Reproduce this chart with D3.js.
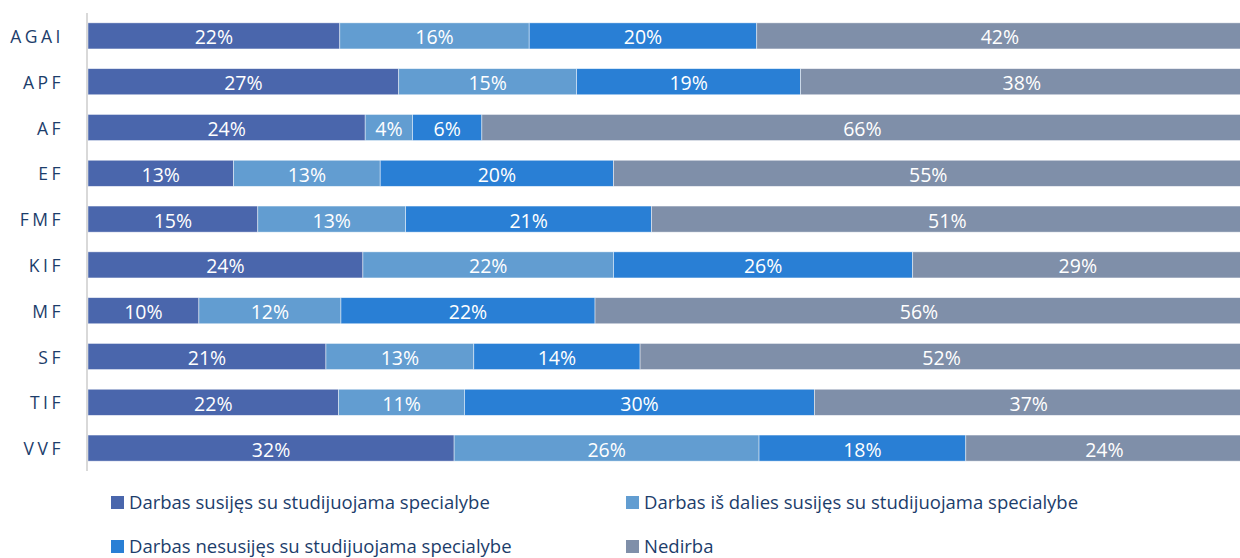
<!DOCTYPE html>
<html>
<head>
<meta charset="utf-8">
<script src="https://cdn.jsdelivr.net/npm/d3@7"></script>
<style>
  body { margin: 0; background: #fff; }
  #grafikas { width: 1240px; height: 558px; overflow: hidden; }
  text { font-family: "Open Sans", sans-serif; }
</style>
</head>
<body>
<div id="grafikas"></div>
<script>
const fakultetai = ["AGAI", "APF", "AF", "EF", "FMF", "KIF", "MF", "SF", "TIF", "VVF"];
const serijos = [
    "Darbas susijęs su studijuojama specialybe",
    "Darbas iš dalies susijęs su studijuojama specialybe",
    "Darbas nesusijęs su studijuojama specialybe",
    "Nedirba"
];
const susijes   = [21.8, 26.9, 24.0, 12.6, 14.7, 23.8,  9.6, 20.6, 21.7, 31.7];
const isDalies  = [16.4, 15.4,  4.1, 12.7, 12.8, 21.7, 12.3, 12.8, 10.9, 26.4];
const nesusijes = [19.7, 19.4,  6.0, 20.2, 21.3, 25.9, 22.0, 14.4, 30.3, 17.9];
const nedirba   = [42.1, 38.3, 65.9, 54.5, 51.2, 28.6, 56.1, 52.2, 37.1, 24.0];
const spalvos = ["#4a66ac", "#629dd1", "#297fd5", "#7f8fa9"];

function piesti() {
    const width = 1240, height = 558;

    const svg = d3.select("#grafikas")
        .append("svg")
        .attr("width", width)
        .attr("height", height);

    const lentele = fakultetai.map((f, i) => ({
        fak: f, s0: susijes[i], s1: isDalies[i], s2: nesusijes[i], s3: nedirba[i]
    }));
    const stack = d3.stack().keys(["s0", "s1", "s2", "s3"])(lentele);

    const x = d3.scaleLinear().domain([0, 100]).range([88, 1243]);
    const y = d3.scaleBand()
        .domain(fakultetai)
        .range([13, 471])
        .paddingInner(0.43)
        .paddingOuter(0.215);

    const sluoksniai = svg.selectAll("g.serija")
        .data(stack)
        .enter().append("g")
        .attr("class", "serija")
        .attr("fill", (d, i) => spalvos[i]);

    sluoksniai.selectAll("rect")
        .data(d => d)
        .enter().append("rect")
        .attr("x", d => x(d[0]))
        .attr("y", d => y(d.data.fak))
        .attr("width", d => x(d[1]) - x(d[0]))
        .attr("height", y.bandwidth())
        .attr("stroke", "#ffffff")
        .attr("stroke-opacity", 0.6)
        .attr("stroke-width", 0.75);

    sluoksniai.selectAll("text")
        .data(d => d)
        .enter().append("text")
        .attr("x", d => (x(d[0]) + x(d[1])) / 2)
        .attr("y", d => y(d.data.fak) + y.bandwidth() / 2 + 8.5)
        .attr("text-anchor", "middle")
        .attr("fill", "#ffffff")
        .attr("font-size", "19.5px")
        .text(d => Math.round(d[1] - d[0]) + "%");

    // vertikali ašis
    svg.append("line")
        .attr("x1", 87).attr("x2", 87)
        .attr("y1", 13).attr("y2", 471)
        .attr("stroke", "#d9d9d9")
        .attr("stroke-width", 2);

    svg.append("g").selectAll("text")
        .data(fakultetai)
        .enter().append("text")
        .attr("x", 64)
        .attr("y", d => y(d) + y.bandwidth() / 2 + 7)
        .attr("text-anchor", "end")
        .attr("fill", "#1c3d6b")
        .attr("font-size", "17.5px")
        .attr("letter-spacing", "3.5px")
        .text(d => d);

    // legenda
    const legPoz = [[111, 502], [626, 502], [111, 546], [626, 546]];
    const leg = svg.append("g").selectAll("g")
        .data(serijos)
        .enter().append("g")
        .attr("transform", (d, i) => `translate(${legPoz[i][0]},${legPoz[i][1]})`);

    leg.append("rect")
        .attr("x", 0).attr("y", -6)
        .attr("width", 13).attr("height", 13)
        .attr("fill", (d, i) => spalvos[i]);

    leg.append("text")
        .attr("x", 18)
        .attr("y", 7)
        .attr("fill", "#1c3d6b")
        .attr("font-size", "18.5px")
        .text(d => d);
}

piesti();
</script>
</body>
</html>
